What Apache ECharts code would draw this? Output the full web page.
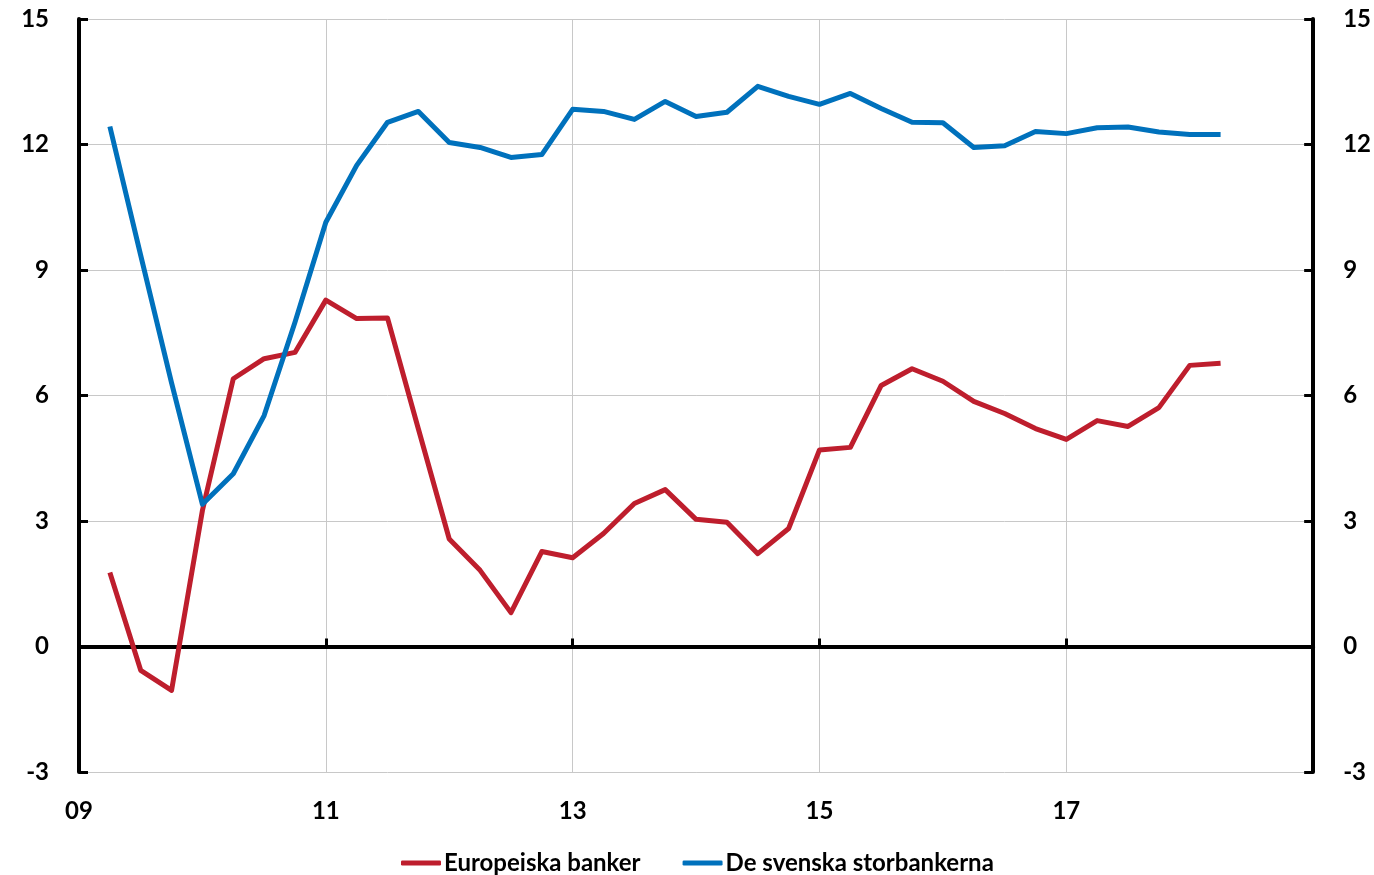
<!DOCTYPE html>
<html>
<head>
<meta charset="utf-8">
<script src="https://cdn.jsdelivr.net/npm/echarts@6/dist/echarts.min.js"></script>
<style>
  html, body { margin: 0; padding: 0; background: #fff; }
  #chart { width: 1374px; height: 875px; }
</style>
</head>
<body>
<div id="chart"></div>
<script>
// Quarterly observations (first observation 2009 Q2 ... last 2018 Q2)
const quarters = [
  '2009 Q2','2009 Q3','2009 Q4','2010 Q1','2010 Q2','2010 Q3','2010 Q4',
  '2011 Q1','2011 Q2','2011 Q3','2011 Q4','2012 Q1','2012 Q2','2012 Q3','2012 Q4',
  '2013 Q1','2013 Q2','2013 Q3','2013 Q4','2014 Q1','2014 Q2','2014 Q3','2014 Q4',
  '2015 Q1','2015 Q2','2015 Q3','2015 Q4','2016 Q1','2016 Q2','2016 Q3','2016 Q4',
  '2017 Q1','2017 Q2','2017 Q3','2017 Q4','2018 Q1','2018 Q2'
];
const europeiskaBanker = [
  1.77, -0.57, -1.05, 3.25, 6.40, 6.88, 7.03,
  8.28, 7.84, 7.85, 5.20, 2.57, 1.82, 0.81, 2.27,
  2.12, 2.70, 3.42, 3.75, 3.04, 2.97, 2.22, 2.82,
  4.70, 4.76, 6.24, 6.64, 6.34, 5.86, 5.57, 5.21,
  4.95, 5.40, 5.26, 5.71, 6.72, 6.77
];
const svenskaStorbankerna = [
  12.43, 9.35, 6.30, 3.40, 4.13, 5.52, 7.75,
  10.14, 11.50, 12.53, 12.79, 12.05, 11.93, 11.69, 11.76,
  12.84, 12.79, 12.60, 13.03, 12.67, 12.77, 13.39, 13.15,
  12.96, 13.22, 12.86, 12.53, 12.52, 11.93, 11.97, 12.31,
  12.26, 12.40, 12.42, 12.30, 12.24, 12.24
];
const seriesNames = ['Europeiska banker', 'De svenska storbankerna'];
const seriesColors = ['#BE1E2D', '#0071BC'];
const baseYear = 2009;
const xTickLabels = ['09', '11', '13', '15', '17', ''];
const yMin = -3, yMax = 15, yStep = 3;

// position of a quarter label on a "years since 2009" axis (end-of-quarter convention)
function qPos(label) {
  const [y, q] = label.split(' Q');
  return (parseInt(y, 10) - baseYear) + (parseInt(q, 10) - 1) / 4;
}
const xs = quarters.map(qPos);
const pair = vals => vals.map((v, i) => [xs[i], v]);

const FONT = 'Lato';
const labelStyle = { color: '#000', fontFamily: FONT, fontWeight: 'bold', fontSize: 24 };

const chart = echarts.init(document.getElementById('chart'), null, { renderer: 'canvas' });
const yAxisBase = (pos) => ({
  type: 'value', position: pos, min: yMin, max: yMax, interval: yStep,
  axisLine: { show: true, onZero: false, lineStyle: { color: '#000', width: 4 } },
  axisTick: { show: true, inside: true, length: 9, lineStyle: { color: '#000', width: 3 } },
  axisLabel: Object.assign({ margin: 30 }, labelStyle),
  splitLine: { show: pos === 'left', lineStyle: { color: '#c8c8c8', width: 1 } }
});

chart.setOption({
  animation: false,
  backgroundColor: '#fff',
  textStyle: { fontFamily: FONT },
  grid: { left: 79, right: 59, top: 19, bottom: 103, containLabel: false },
  legend: {
    left: 396, top: 846,
    icon: 'roundRect', itemWidth: 40, itemHeight: 5, itemGap: 42,
    textStyle: Object.assign({ padding: [0, 0, 0, -2] }, labelStyle),
    data: seriesNames
  },
  xAxis: [
    {
      type: 'value', position: 'bottom', min: 0, max: 10, interval: 2,
      axisLine: { show: false, onZero: false },
      axisTick: { show: false },
      axisLabel: Object.assign({
        margin: 27,
        formatter: v => xTickLabels[Math.round(v / 2)]
      }, labelStyle),
      splitLine: { show: true, lineStyle: { color: '#c8c8c8', width: 1 } }
    },
    {
      type: 'value', position: 'bottom', min: 0, max: 10, interval: 2,
      axisLine: { show: true, onZero: true, onZeroAxisIndex: 0, lineStyle: { color: '#000', width: 4 } },
      axisTick: { show: true, inside: true, length: 8, lineStyle: { color: '#000', width: 3 } },
      axisLabel: { show: false },
      splitLine: { show: false }
    }
  ],
  yAxis: [yAxisBase('left'), yAxisBase('right')],
  series: [
    {
      name: seriesNames[0], type: 'line', xAxisIndex: 0, yAxisIndex: 0,
      data: pair(europeiskaBanker), showSymbol: false, symbol: 'none',
      lineStyle: { color: seriesColors[0], width: 5, join: 'round' },
      itemStyle: { color: seriesColors[0] }, z: 3
    },
    {
      name: seriesNames[1], type: 'line', xAxisIndex: 0, yAxisIndex: 0,
      data: pair(svenskaStorbankerna), showSymbol: false, symbol: 'none',
      lineStyle: { color: seriesColors[1], width: 5, join: 'round' },
      itemStyle: { color: seriesColors[1] }, z: 4
    }
  ]
});
</script>
</body>
</html>
